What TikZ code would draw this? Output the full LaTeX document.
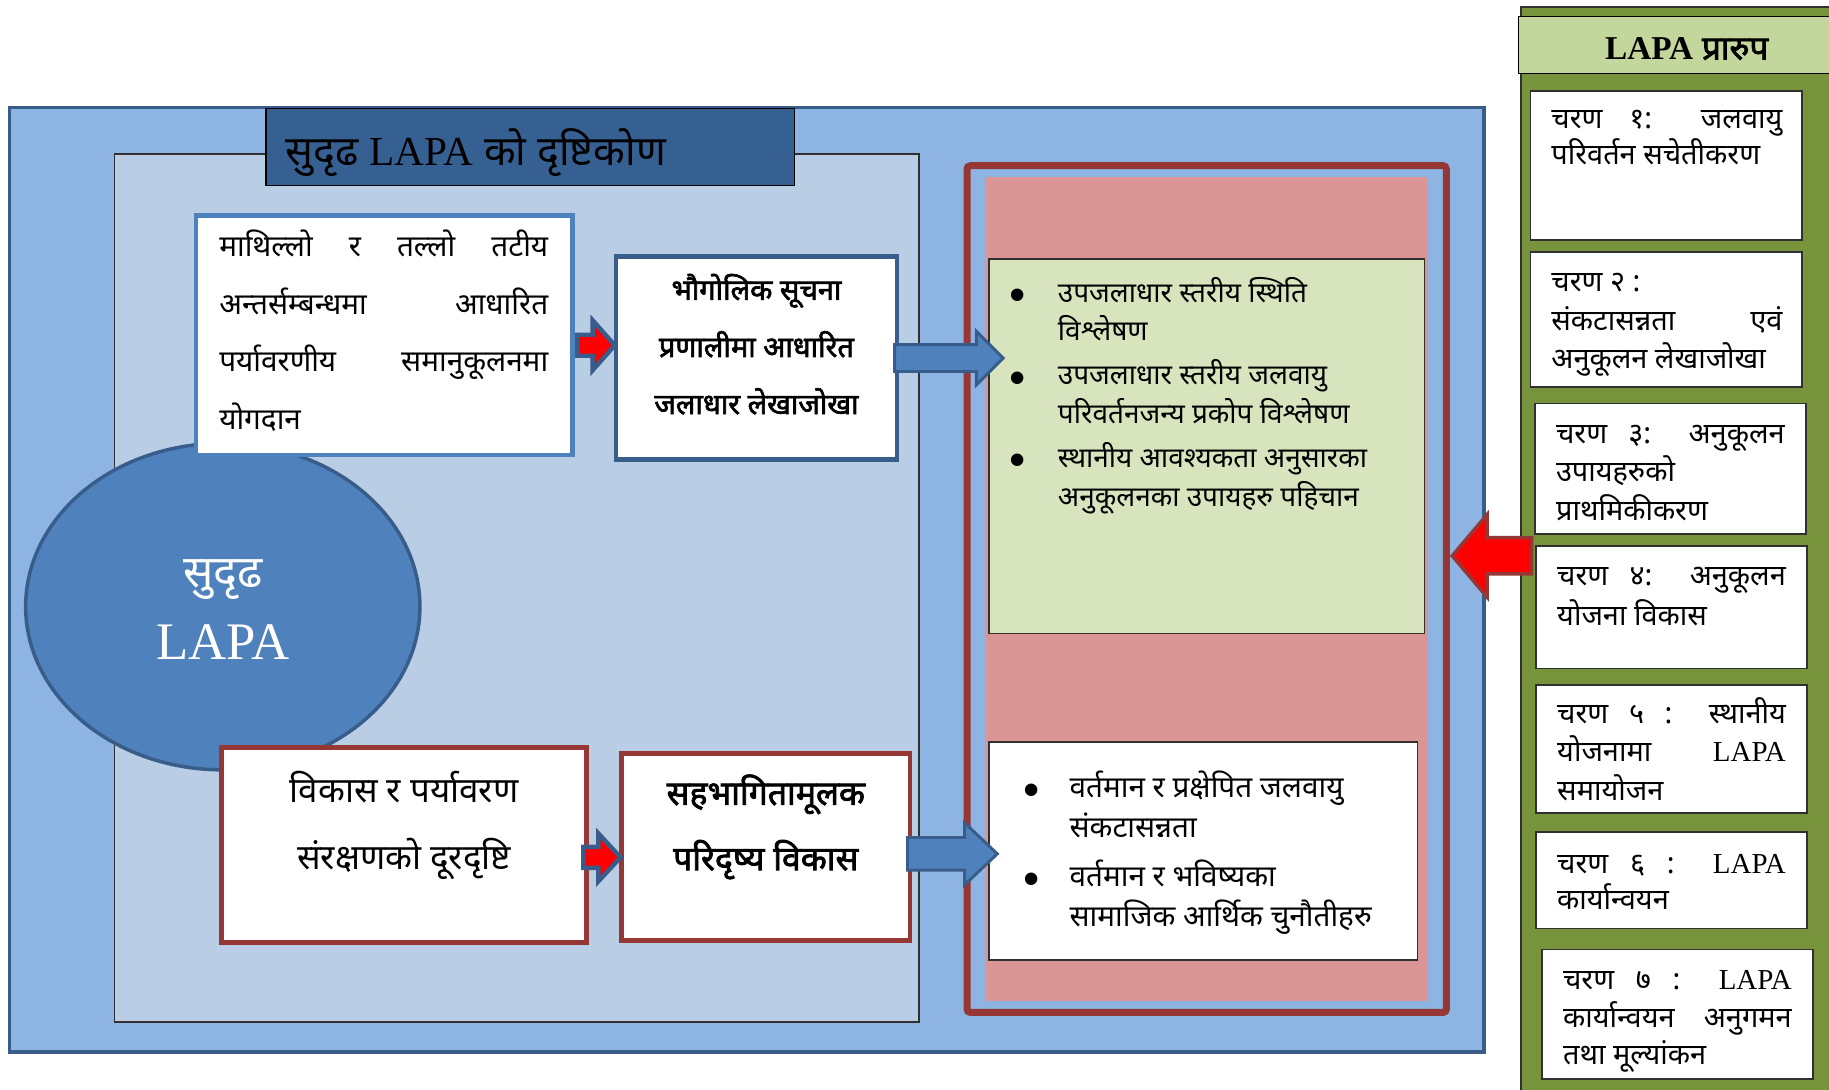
\documentclass[tikz,border=0pt]{standalone}
\usepackage{fontspec}
\setmainfont{Liberation Serif}
\newfontfamily\dv[Script=Devanagari]{Noto Sans}
\newfontfamily\dvb[Script=Devanagari,FakeBold=2.2]{Noto Sans}
\newfontfamily\symf{DejaVu Sans}
\usetikzlibrary{calc,shapes.geometric}
\definecolor{outerblue}{HTML}{8EB4E3}
\definecolor{darkblue}{HTML}{385D8A}
\definecolor{panelblue}{HTML}{B9CDE5}
\definecolor{titleblue}{HTML}{376092}
\definecolor{midblue}{HTML}{4F81BD}
\definecolor{darkred}{HTML}{953735}
\definecolor{pinkfill}{HTML}{D99694}
\definecolor{palegreen}{HTML}{D7E4BD}
\definecolor{olive}{HTML}{77933C}
\definecolor{lightolive}{HTML}{C3D69B}
\definecolor{edgegray}{HTML}{303030}
\newdimen\linew
\newlength\fitw
\newcommand\fitsize[4]{\settowidth\fitw{\fontsize{10pt}{12pt}\selectfont#2#3}\pgfmathsetmacro#1{10*#4/\fitw}}
\newcommand\stk[3]{\vtop{\linew=#1\relax\lineskiplimit=-\maxdimen\baselineskip=#2\relax#3}}
\newcommand\jln[1]{\hbox to\linew{#1}}
\newcommand\lln[1]{\hbox to\linew{#1\hfil}}
\newcommand\cln[1]{\hbox to\linew{\hfil#1\hfil}}
\newcommand\LP{{\rmfamily LAPA}}
\newcommand\bdot{\raise2.5pt\hbox{\symf\fontsize{14pt}{14pt}\selectfont ●}}
\newcommand\bul[2]{\hbox to\linew{\hbox to#1{\bdot\hfil}#2\hfil}}
\newcommand\cont[2]{\hbox to\linew{\hskip#1#2\hfil}}
\newcommand\szf[1]{\fontsize{#1pt}{12pt}\selectfont}
\newcommand\barrow[6]{\path[#1] let \p1=(#2), \p2=(#3) in (\x1,{\y1+(#4)}) -- ({\x2-(#6)},{\y1+(#4)}) -- ({\x2-(#6)},{\y1+(#5)}) -- (\x2,\y1) -- ({\x2-(#6)},{\y1-(#5)}) -- ({\x2-(#6)},{\y1-(#4)}) -- (\x1,{\y1-(#4)}) -- cycle;}
\begin{document}
\fitsize{\szT}{\dv}{सुदृढ \LP{} को दृष्टिकोण}{326}%
\fitsize{\szTL}{\dv}{योगदान}{70}%
\fitsize{\szG}{\dvb}{जलाधार लेखाजोखा}{175}%
\fitsize{\szE}{\dv}{सुदृढ}{68}%
\fitsize{\szEL}{\rmfamily}{LAPA}{114}%
\fitsize{\szB}{\dv}{विकास र पर्यावरण}{196}%
\fitsize{\szS}{\dvb}{सहभागितामूलक}{170}%
\fitsize{\szGr}{\dv}{परिवर्तनजन्य प्रकोप विश्लेषण}{250}%
\fitsize{\szW}{\dv}{सामाजिक आर्थिक चुनौतीहरु}{259}%
\fitsize{\szSt}{\dv}{परिवर्तन सचेतीकरण}{179}%
\fitsize{\szH}{\dvb\bfseries}{\LP{} प्रारुप}{140}%
\begin{tikzpicture}[x=1pt,y=-1pt,
  every node/.style={outer sep=0pt,inner sep=0pt},
  rect/.style={anchor=north west,rectangle},
  txt/.style={anchor=base west},
  ctxt/.style={anchor=base},
  smallarrow/.style={fill=red,draw=darkblue,line width=3.8pt,line join=miter},
  bigarrow/.style={fill=midblue,draw=darkblue,line width=2.5pt,line join=miter},
  redarrow/.style={fill=red,draw=darkred,line width=3pt,line join=miter},
  stepbox/.style={rect,fill=white,draw=edgegray,line width=1.4pt}]
\useasboundingbox (0,0) rectangle (1568,934);
\fill[white] (0,0) rectangle (1568,934);
% left big frame
\node[rect,fill=outerblue,draw=darkblue,line width=3pt,minimum width=1264pt,minimum height=810pt] (outer) at (8,92) {};
\node[rect,fill=panelblue,draw=edgegray,line width=1.2pt,minimum width=690pt,minimum height=744pt] (panel) at (98,132) {};
\node[rect,fill=titleblue,draw=black,line width=1pt,minimum width=453pt,minimum height=66pt] (title) at (228,93) {};
\node[txt] (title-t) at (245,142) {\dv\szf{\szT}सुदृढ \LP{} को दृष्टिकोण};
% ellipse
\node[ellipse,fill=midblue,draw=darkblue,line width=3pt,minimum width=338pt,minimum height=280pt] (ell) at (191,520) {};
\node[ctxt,text=white] (ell-t) at (191,504) {\stk{160pt}{61pt}{\cln{\dv\szf{\szE}सुदृढ}\cln{\rmfamily\szf{\szEL}LAPA}}};
% top row boxes
\node[rect,fill=white,draw=midblue,line width=4pt,minimum width=323pt,minimum height=205pt] (tl) at (168,185) {};
\node[txt] (tl-t) at (188,220) {\dv\szf{\szTL}\stk{282pt}{49.3pt}{\jln{माथिल्लो र तल्लो तटीय}\jln{अन्तर्सम्बन्धमा आधारित}\jln{पर्यावरणीय समानुकूलनमा}\lln{योगदान}}};
\node[rect,fill=white,draw=darkblue,line width=4pt,minimum width=241pt,minimum height=174pt] (geo) at (528,220) {};
\node[ctxt] (geo-t) at (648.5,257) {\dvb\szf{\szG}\stk{230pt}{49pt}{\cln{भौगोलिक सूचना}\cln{प्रणालीमा आधारित}\cln{जलाधार लेखाजोखा}}};
% bottom row boxes
\node[rect,fill=white,draw=darkred,line width=4pt,minimum width=313pt,minimum height=167pt] (bl) at (190,641) {};
\node[ctxt] (bl-t) at (346.5,688) {\dv\szf{\szB}\stk{300pt}{57pt}{\cln{विकास र पर्यावरण}\cln{संरक्षणको दूरदृष्टि}}};
\node[rect,fill=white,draw=darkred,line width=4pt,minimum width=247pt,minimum height=160pt] (sah) at (533,646) {};
\node[ctxt] (sah-t) at (656.5,690) {\dvb\szf{\szS}\stk{240pt}{56pt}{\cln{सहभागितामूलक}\cln{परिदृष्य विकास}}};
% small arrows
\barrow{smallarrow}{[shift={(4,8.5)}]tl.east}{[xshift=-1pt]geo.west}{9pt}{21.5pt}{19pt}
\barrow{smallarrow}{[shift={(-3,10.5)}]bl.east}{[xshift=-1pt]sah.west}{9pt}{20.5pt}{19pt}
% red frame group
\node[rect,draw=darkred,line width=6pt,rounded corners=3pt,minimum width=411pt,minimum height=726pt] (rf) at (829,142) {};
\node[rect,fill=pinkfill,minimum width=380pt,minimum height=706pt] (pinkp) at (844,152) {};
\node[rect,fill=palegreen,draw=edgegray,line width=1.2pt,minimum width=373pt,minimum height=321pt] (green) at (848,222) {};
\node[txt] (green-t) at (866,259) {\dv\szf{\szGr}\stk{340pt}{33pt}{\bul{41pt}{उपजलाधार स्तरीय स्थिति}\cont{41pt}{विश्लेषण}\vskip5pt\bul{41pt}{उपजलाधार स्तरीय जलवायु}\cont{41pt}{परिवर्तनजन्य प्रकोप विश्लेषण}\vskip5pt\bul{41pt}{स्थानीय आवश्यकता अनुसारका}\cont{41pt}{अनुकूलनका उपायहरु पहिचान}}};
\node[rect,fill=white,draw=edgegray,line width=1.2pt,minimum width=367pt,minimum height=187pt] (wb) at (848,636) {};
\node[txt] (wb-t) at (878,684) {\dv\szf{\szW}\stk{330pt}{34pt}{\bul{39pt}{वर्तमान र प्रक्षेपित जलवायु}\cont{39pt}{संकटासन्नता}\vskip8pt\bul{39pt}{वर्तमान र भविष्यका}\cont{39pt}{सामाजिक आर्थिक चुनौतीहरु}}};
% big arrows
\barrow{bigarrow}{[xshift=-2pt]geo.east}{[xshift=12pt]green.west}{11.5pt}{23pt}{23pt}
\barrow{bigarrow}{[shift={(-2,6)}]sah.east}{[xshift=7pt]wb.west}{14pt}{26.5pt}{28pt}
% right sidebar
\node[rect,fill=olive,draw=edgegray,line width=1.5pt,minimum width=300pt,minimum height=960pt] (side) at (1304,6) {};
\node[rect,fill=lightolive,draw=black,line width=1pt,minimum width=300pt,minimum height=49pt] (head) at (1302,14) {};
\node[ctxt] (head-t) at (1446,51) {\dvb\bfseries\szf{\szH}\LP{} प्रारुप};
\node[stepbox,minimum width=233pt,minimum height=128pt] (s1) at (1312,78) {};
\node[txt] (s1-t) at (1330,110) {\dv\szf{\szSt}\stk{198pt}{31pt}{\jln{चरण १: जलवायु}\lln{परिवर्तन सचेतीकरण}}};
\node[stepbox,minimum width=233pt,minimum height=116pt] (s2) at (1312,216) {};
\node[txt] (s2-t) at (1330,250) {\dv\szf{\szSt}\stk{198pt}{33pt}{\lln{चरण २ :}\jln{संकटासन्नता एवं}\lln{अनुकूलन लेखाजोखा}}};
\node[stepbox,minimum width=232pt,minimum height=112pt] (s3) at (1316,346) {};
\node[txt] (s3-t) at (1334,380) {\dv\szf{\szSt}\stk{196pt}{33pt}{\jln{चरण ३: अनुकूलन}\lln{उपायहरुको}\lln{प्राथमिकीकरण}}};
\node[stepbox,minimum width=232pt,minimum height=105pt] (s4) at (1317,468) {};
\node[txt] (s4-t) at (1335,502) {\dv\szf{\szSt}\stk{196pt}{34pt}{\jln{चरण ४: अनुकूलन}\lln{योजना विकास}}};
\node[stepbox,minimum width=232pt,minimum height=110pt] (s5) at (1317,587) {};
\node[txt] (s5-t) at (1335,620) {\dv\szf{\szSt}\stk{196pt}{33pt}{\jln{चरण ५ : स्थानीय}\jln{योजनामा \LP}\lln{समायोजन}}};
\node[stepbox,minimum width=232pt,minimum height=83pt] (s6) at (1317,713) {};
\node[txt] (s6-t) at (1335,749) {\dv\szf{\szSt}\stk{196pt}{31pt}{\jln{चरण ६ : \LP}\lln{कार्यान्वयन}}};
\node[stepbox,minimum width=232pt,minimum height=111pt] (s7) at (1322,814) {};
\node[txt] (s7-t) at (1340,848) {\dv\szf{\szSt}\stk{196pt}{32.5pt}{\jln{चरण ७ : \LP}\jln{कार्यान्वयन अनुगमन}\lln{तथा मूल्यांकन}}};
% red arrow from sidebar to red frame
\barrow{redarrow}{[shift={(-4,-44)}]s4.west}{[xshift=5pt]rf.east}{15.5pt}{35.5pt}{-30pt}
\end{tikzpicture}
\end{document}
